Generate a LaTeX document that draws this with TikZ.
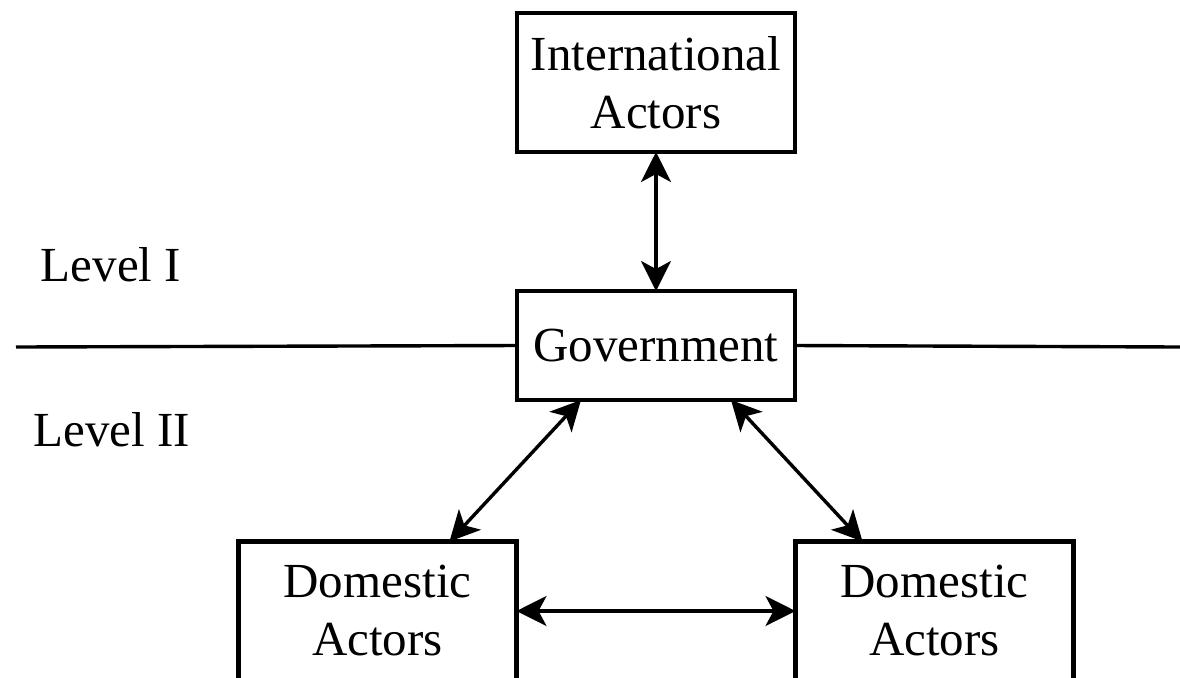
\documentclass[tikz,border=0pt]{standalone}
\usepackage{fontspec}
\setmainfont{Liberation Serif}
\usetikzlibrary{arrows.meta,positioning}

\tikzset{
  actor/.style={draw,line width=2.2pt,minimum width=139pt,minimum height=69.5pt,align=center,inner sep=0pt,outer sep=0pt},
  link/.style={line width=1.7pt,{Stealth[length=15pt,width=15pt,inset=4pt]}-{Stealth[length=15pt,width=15pt,inset=4pt]}},
  level/.style={inner sep=0pt}
}

\begin{document}
\begin{tikzpicture}[x=0.5pt,y=-0.5pt,font=\fontsize{24.5}{29}\selectfont]
    \clip (0,0) rectangle (1180,677);
    % boxes
    \node[actor,minimum height=54.5pt] (gov) at (656,345.5) {Government};
    \node[actor,above=69.5pt of gov] (intl) {International\\Actors};
    \node[actor] (domL) at (377.5,611) {Domestic\\Actors};
    \node[actor,right=139.5pt of domL] (domR) {Domestic\\Actors};
    % levels
    \node[level] (lvI) at (111,265) {Level I};
    \node[level] (lvII) at (112,430) {Level II};
    \coordinate (lineL) at (16,347);
    \coordinate (lineR) at (1180,347);
    \draw[line width=1.7pt] (lineL) -- (gov.west);
    \draw[line width=1.7pt] (gov.east) -- (lineR);
    % links
    \draw[link] (intl.south) -- (gov.north);
    \draw[link] (gov.216) -- (domL.44);
    \draw[link] (gov.324) -- (domR.136);
    \draw[link] (domL.east) -- (domR.west);
\end{tikzpicture}
\end{document}
